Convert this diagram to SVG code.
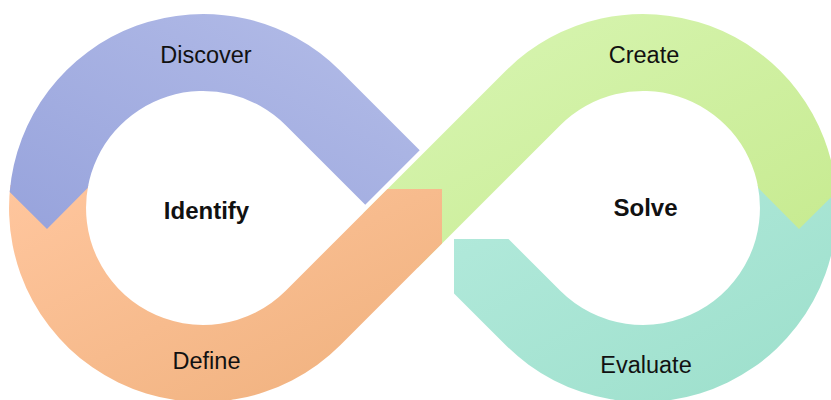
<svg xmlns="http://www.w3.org/2000/svg" width="831" height="400" viewBox="0 0 831 400">
  <defs>
    <linearGradient id="gBlue" x1="0" y1="1" x2="1" y2="0">
      <stop offset="0" stop-color="#97a3dc"/>
      <stop offset="1" stop-color="#b4bde8"/>
    </linearGradient>
    <linearGradient id="gOrange" x1="0" y1="0" x2="1" y2="1">
      <stop offset="0" stop-color="#ffc69e"/>
      <stop offset="1" stop-color="#efb07c"/>
    </linearGradient>
    <linearGradient id="gGreen" x1="0" y1="0" x2="1" y2="1">
      <stop offset="0" stop-color="#d9f6b5"/>
      <stop offset="1" stop-color="#c6ea8e"/>
    </linearGradient>
    <linearGradient id="gTeal" x1="0" y1="0" x2="1" y2="1">
      <stop offset="0" stop-color="#b3eadc"/>
      <stop offset="1" stop-color="#9cdfcb"/>
    </linearGradient>
  </defs>
  <style>
    .lbl { font-family: "Liberation Sans", Arial, sans-serif; font-size: 23.5px; fill: #111111; text-anchor: middle; }
    .hub { font-family: "Liberation Sans", Arial, sans-serif; font-size: 24px; font-weight: bold; fill: #111111; text-anchor: middle; }
  </style>
  <rect x="0" y="0" width="831" height="400" fill="#ffffff"/>

  <g id="evaluate">
    <path d="M835.6 185 A194 194 0 0 1 505.8 345.2 L454 293.4 L454 239 L508.5 239 L560.3 290.7 A117 117 0 0 0 757.7 185 Z" fill="url(#gTeal)"/>
    <text class="lbl" x="646" y="373">Evaluate</text>
  </g>

  <g id="create">
    <path d="M363.3 213.3 L505.8 70.8 A194 194 0 0 1 836.3 192 L799 229 L758.3 188 A117 117 0 0 0 560.3 125.3 L417.75 267.75 Z" fill="url(#gGreen)"/>
    <text class="lbl" x="644" y="63">Create</text>
  </g>

  <g id="define">
    <path d="M10.4 185 A194 194 0 0 0 340.2 345.2 L442 243.4 L442 189 L387.5 189 L285.7 290.7 A117 117 0 0 1 88.3 185 Z" fill="url(#gOrange)"/>
    <text class="lbl" x="206.5" y="369">Define</text>
  </g>

  <g id="discover">
    <path d="M9.7 192 A194 194 0 0 1 340.2 70.8 L419.7 150.3 L365.25 204.75 L285.7 125.3 A117 117 0 0 0 87.7 188 L47 229 Z" fill="url(#gBlue)"/>
    <text class="lbl" x="206" y="63">Discover</text>
  </g>

  <g id="identify">
    <text class="hub" x="206.5" y="219">Identify</text>
  </g>

  <g id="solve">
    <text class="hub" x="645.5" y="216">Solve</text>
  </g>

  <g id="connectors"></g>
</svg>
